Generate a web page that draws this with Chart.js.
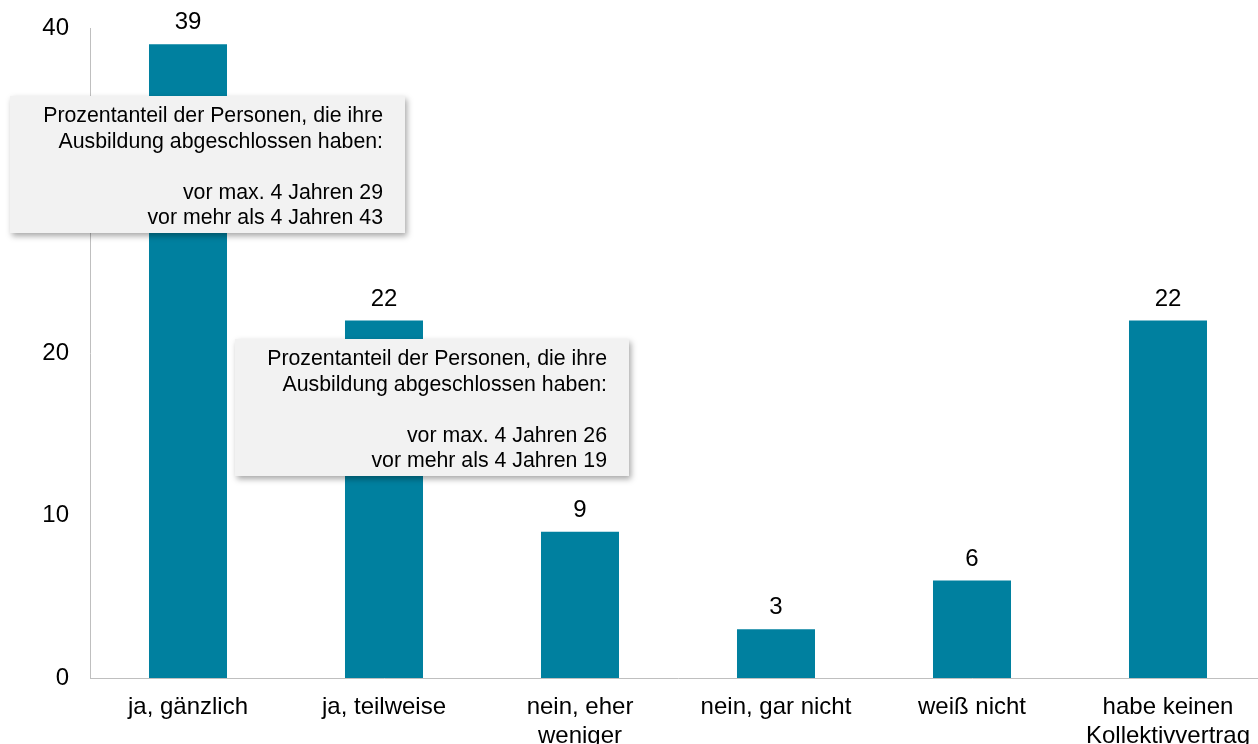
<!DOCTYPE html>
<html>
<head>
<meta charset="utf-8">
<script src="https://cdn.jsdelivr.net/npm/chart.js@4"></script>
<style>
  html, body { margin: 0; padding: 0; background: #fff; overflow: hidden; }
  #wrap { width: 1266px; height: 744px; }
</style>
</head>
<body>
<div id="wrap"><canvas id="chart" width="1266" height="744"></canvas></div>
<script>
// Chart data
const categories = [
  ["ja, gänzlich"],
  ["ja, teilweise"],
  ["nein, eher", "weniger"],
  ["nein, gar nicht"],
  ["weiß nicht"],
  ["habe keinen", "Kollektivvertrag"]
]
const values = [39, 22, 9, 3, 6, 22]

// Notes shown for the first two bars
const noteRecent = [29, 26]   // vor max. 4 Jahren
const noteOlder = [43, 19]    // vor mehr als 4 Jahren

const FONT = "'Liberation Sans', Arial, sans-serif"
const barColor = '#00809F'

// Value labels above the bars
const valueLabels = {
  id: 'valueLabels',
  afterDatasetsDraw(chart) {
    const ctx = chart.ctx
    const meta = chart.getDatasetMeta(0)
    ctx.save()
    ctx.font = `24px ${FONT}`
    ctx.fillStyle = '#000'
    ctx.textAlign = 'center'
    ctx.textBaseline = 'alphabetic'
    meta.data.forEach((bar, i) => {
      ctx.fillText(String(values[i]), bar.x, bar.y - 15)
    })
    ctx.restore()
  }
}

// Grey note boxes
const noteBoxes = {
  id: 'noteBoxes',
  afterDraw(chart, args, opts) {
    const ctx = chart.ctx
    opts.boxes.forEach((b, i) => {
      const lines = [
        'Prozentanteil der Personen, die ihre',
        'Ausbildung abgeschlossen haben:',
        '',
        `vor max. 4 Jahren ${noteRecent[i]}`,
        `vor mehr als 4 Jahren ${noteOlder[i]}`
      ]
      ctx.save()
      ctx.shadowColor = 'rgba(0,0,0,0.35)'
      ctx.shadowBlur = 6
      ctx.shadowOffsetX = 2
      ctx.shadowOffsetY = 3
      ctx.fillStyle = '#F2F2F2'
      ctx.fillRect(b.x, b.y, b.w, b.h)
      ctx.restore()

      ctx.save()
      ctx.font = `21.3px ${FONT}`
      ctx.fillStyle = '#000'
      ctx.textAlign = 'right'
      ctx.textBaseline = 'alphabetic'
      lines.forEach((t, k) => {
        ctx.fillText(t, b.x + b.w - 22, b.y + 26 + k * 25.5)
      })
      ctx.restore()
    })
  }
}

new Chart(document.getElementById('chart'), {
  type: 'bar',
  data: {
    labels: categories,
    datasets: [{
      data: values,
      backgroundColor: barColor,
      borderWidth: 0,
      categoryPercentage: 1,
      barPercentage: 0.398
    }]
  },
  options: {
    responsive: false,
    animation: false,
    devicePixelRatio: 1,
    layout: { padding: { top: 28, left: 0, right: 0, bottom: 0 } },
    plugins: {
      legend: { display: false },
      tooltip: { enabled: false },
      noteBoxes: {
        boxes: [
          { x: 10, y: 96, w: 395, h: 137 },
          { x: 235, y: 339, w: 394, h: 137 }
        ]
      }
    },
    scales: {
      y: {
        min: 0,
        max: 40,
        ticks: {
          stepSize: 10,
          padding: 21,
          color: '#000',
          font: { family: FONT, size: 24 }
        },
        grid: { display: false, drawTicks: false },
        border: { display: true, color: '#BFBFBF', width: 1 },
        afterFit(scale) {
          scale.width = 90
          scale.paddingTop = 0
          scale.paddingBottom = 0
        }
      },
      x: {
        ticks: {
          padding: 15,
          color: '#000',
          maxRotation: 0,
          autoSkip: false,
          font: { family: FONT, size: 24, lineHeight: 1.2 }
        },
        grid: { display: false, drawTicks: false },
        border: { display: true, color: '#BFBFBF', width: 1 },
        afterFit(scale) { scale.height = 66 }
      }
    }
  },
  plugins: [valueLabels, noteBoxes]
})
</script>
</body>
</html>
